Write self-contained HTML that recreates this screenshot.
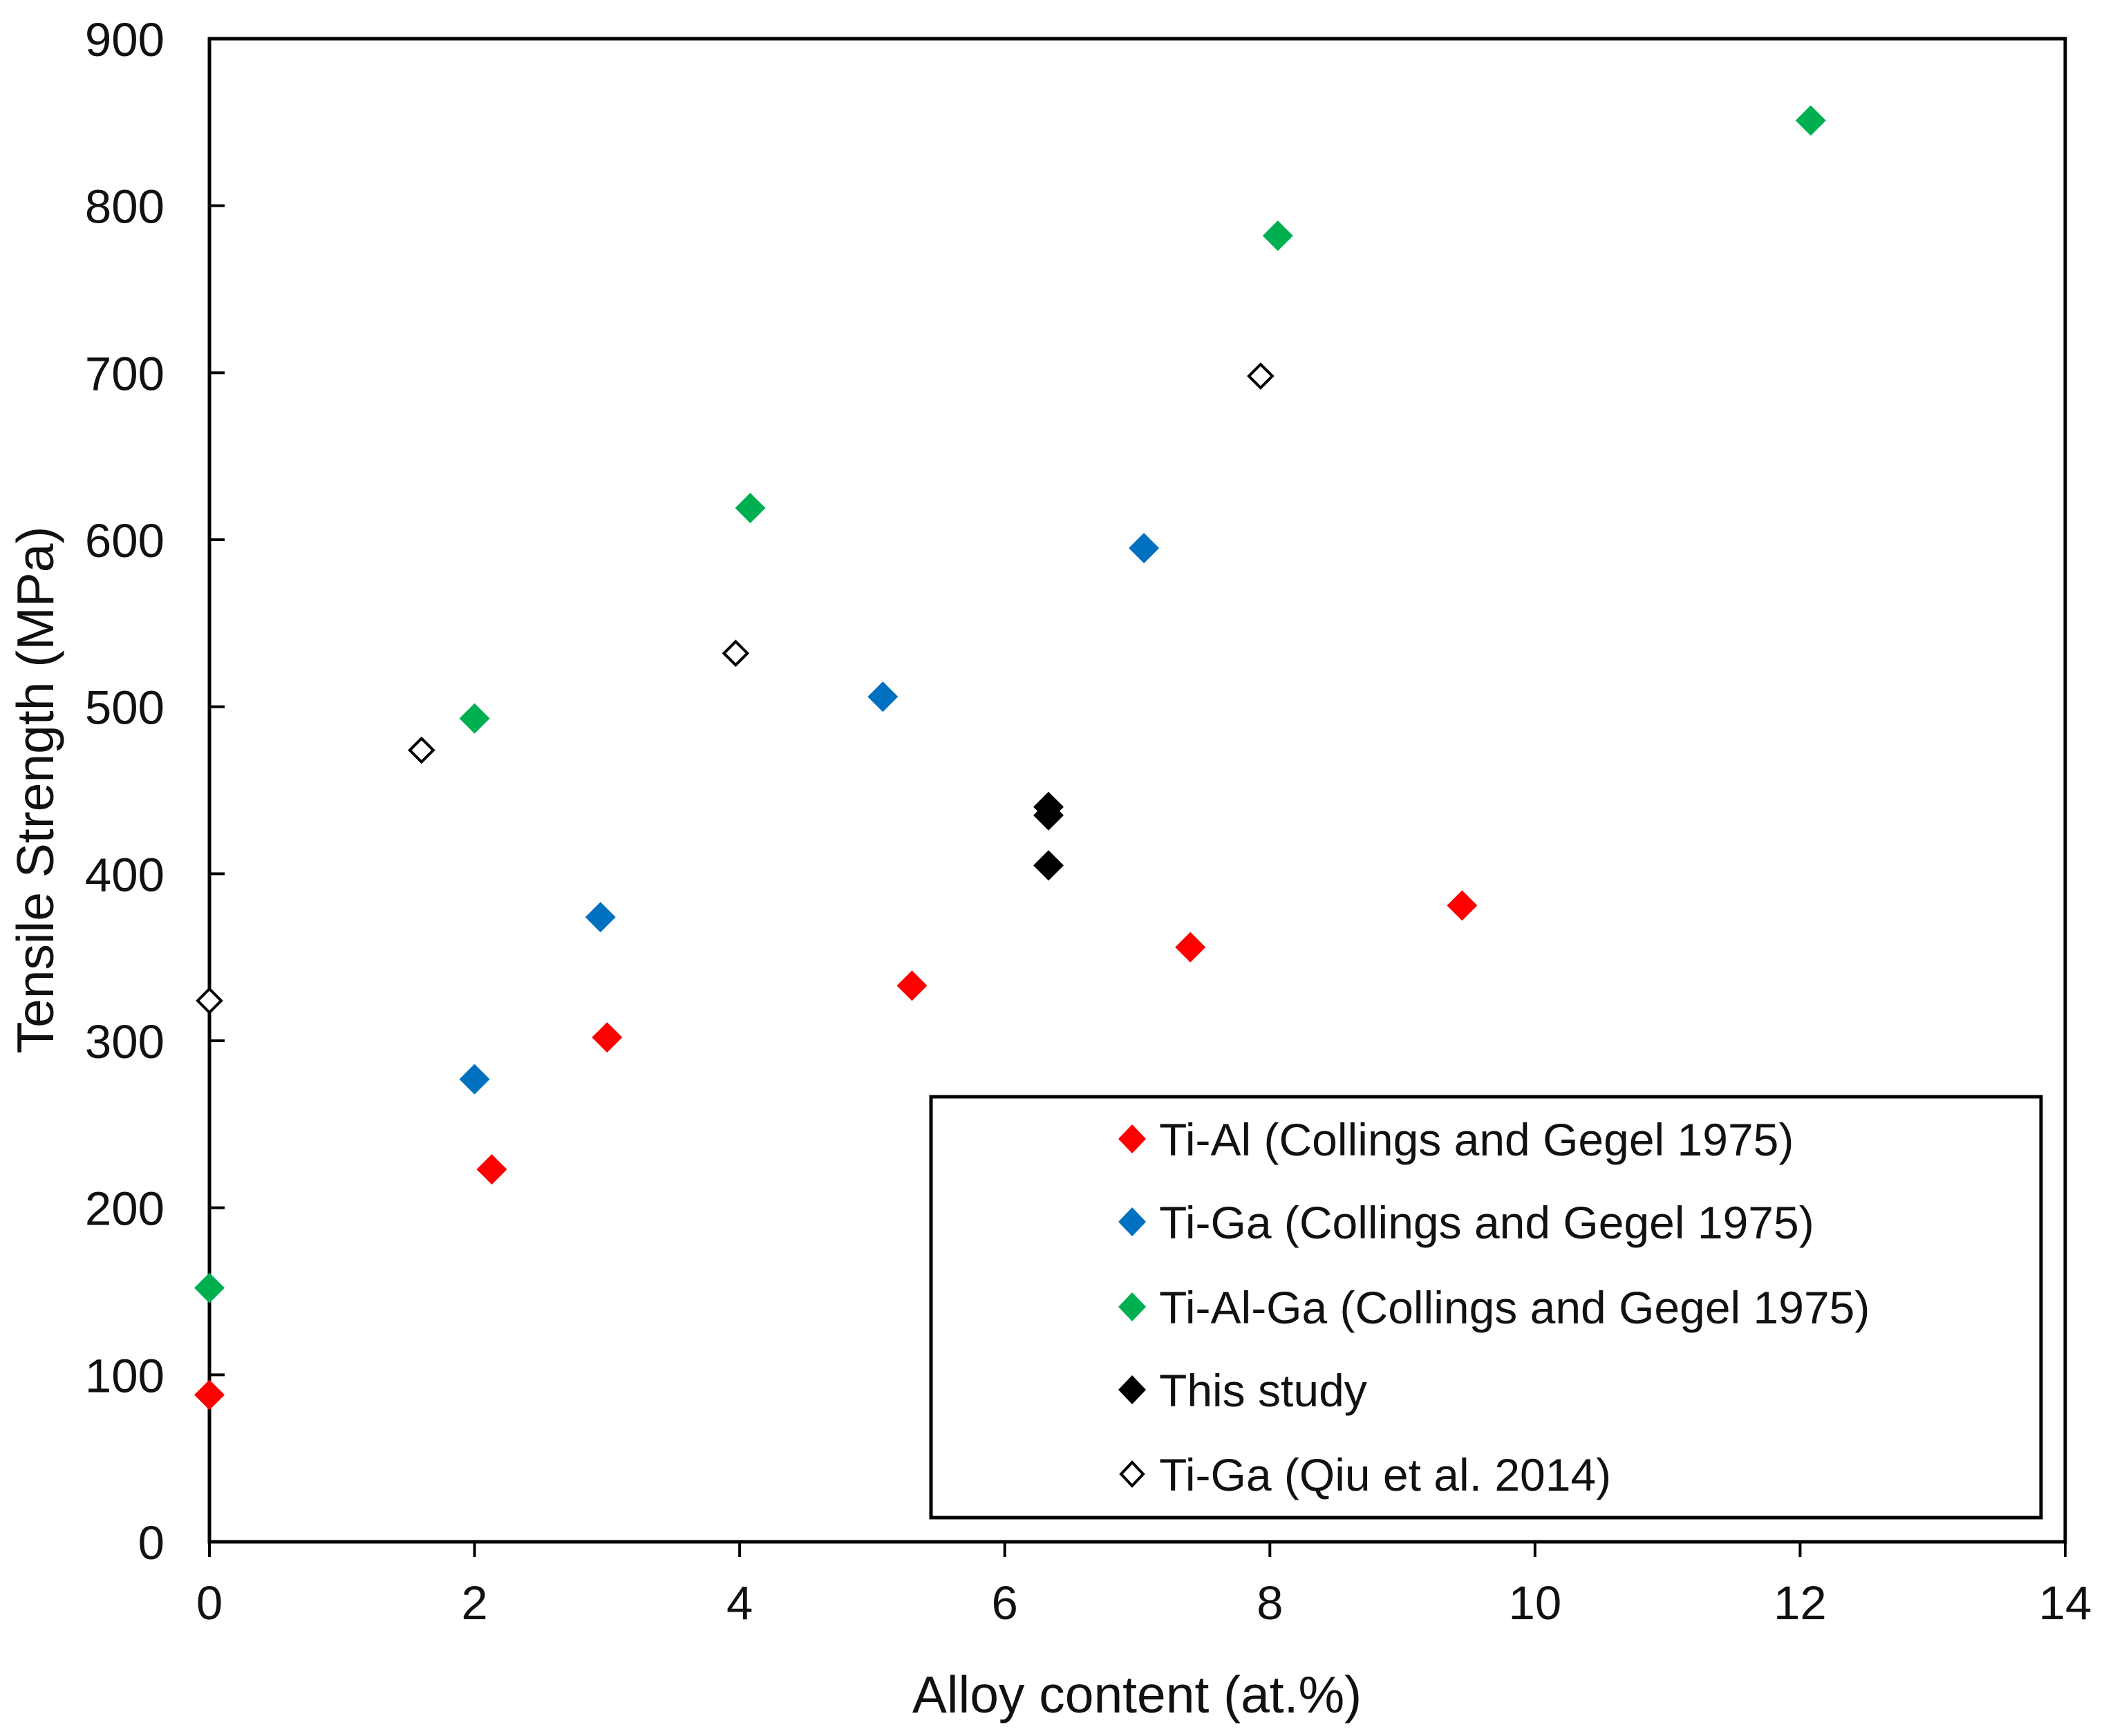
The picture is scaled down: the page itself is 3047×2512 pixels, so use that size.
<!DOCTYPE html>
<html><head><meta charset="utf-8"><style>
html,body{margin:0;padding:0;background:#fff}
svg{display:block}
text{font-family:"Liberation Sans",sans-serif;fill:#111}
</style></head><body>
<svg id="chart" width="3047" height="2512" viewBox="0 0 3047 2512" xmlns="http://www.w3.org/2000/svg">
<rect x="303" y="56" width="2685" height="2175" fill="none" stroke="#000" stroke-width="5"/>
<g id="axes"></g>
<g id="marks"></g>
<text x="1645" y="2478" font-size="75" text-anchor="middle">Alloy content (at.%)</text>
<text transform="translate(77,1143) rotate(-90)" font-size="75" text-anchor="middle">Tensile Strength (MPa)</text>
<g>
<rect x="1347" y="1587" width="1606" height="609" fill="#fff" stroke="#000" stroke-width="5"/>
<g id="legend-items"></g>
</g>
</svg>
<script>
const xTicks=[0,2,4,6,8,10,12,14];
const yTicks=[0,100,200,300,400,500,600,700,800,900];
const tiAlX=[0,2.13,3,5.3,7.4,9.45];
const tiAlY=[88,223,302,333,356,381];
const tiGaX=[2,2.95,5.08,7.05];
const tiGaY=[277,374,506,595];
const tiAlGaX=[0,2.0,4.08,8.06,12.08];
const tiAlGaY=[152,493,619,782,851];
const studyX=[6.33,6.33,6.33];
const studyY=[440,435,405];
const qiuX=[0,1.6,3.97,7.93];
const qiuY=[324,474,532,698];
const seriesNames=["Ti-Al (Collings and Gegel 1975)","Ti-Ga (Collings and Gegel 1975)","Ti-Al-Ga (Collings and Gegel 1975)","This study","Ti-Ga (Qiu et al. 2014)"];

const NS="http://www.w3.org/2000/svg";
const X0=303,X1=2988,Y0=2231,Y1=56;
const xs=v=>X0+(v-0)/(14-0)*(X1-X0);
const ys=v=>Y0-(v-0)/(900-0)*(Y0-Y1);
function mk(tag,attrs,parent){const e=document.createElementNS(NS,tag);for(const k in attrs)e.setAttribute(k,attrs[k]);parent.appendChild(e);return e;}
const axes=document.getElementById('axes');
xTicks.forEach(t=>{
  const l=mk('line',{x1:xs(t),x2:xs(t),y1:Y0,y2:Y0+22,stroke:'#000','stroke-width':4},axes);
  
  
  const tx=mk('text',{x:xs(t),y:Y0+112,'font-size':69,'text-anchor':'middle'},axes);
  tx.textContent=t;
  
  
});
yTicks.forEach(t=>{
  const l=mk('line',{x1:X0,x2:X0+22,y1:ys(t),y2:ys(t),stroke:'#000','stroke-width':4},axes);
  
  
  const tx=mk('text',{x:X0-65,y:ys(t)+25,'font-size':69,'text-anchor':'end'},axes);
  tx.textContent=t;
  
  
});
const marks=document.getElementById('marks');
function diamond(cx,cy,hw,hh,fill,stroke,parent){
  return mk('polygon',{points:`${cx},${cy-hh} ${cx+hw},${cy} ${cx},${cy+hh} ${cx-hw},${cy}`,fill:fill,stroke:stroke,'stroke-width':stroke==='none'?0:4},parent);
}
const series=[
 [tiAlX,tiAlY,'#ff0000','none','ti-al-point'],
 [tiGaX,tiGaY,'#0070c0','none','ti-ga-point'],
 [tiAlGaX,tiAlGaY,'#00b050','none','ti-al-ga-point'],
 [studyX,studyY,'#000000','none','this-study-point'],
 [qiuX,qiuY,'#ffffff','#000','qiu-point']
];
series.forEach(s=>{
  s[0].forEach((x,i)=>{
    const d=diamond(xs(x),ys(s[1][i]),s[3]==='none'?22:17,s[3]==='none'?22:17,s[2],s[3],marks);
    
    
  });
});
const li=document.getElementById('legend-items');
const rowsY=[1648,1768,1891,2011,2133];
series.forEach((s,i)=>{
  const d=diamond(1638,rowsY[i],s[3]==='none'?20:16,s[3]==='none'?21:17,s[2],s[3],li);
  
  
  const t=mk('text',{x:1677,y:rowsY[i]+24,'font-size':66},li);
  t.textContent=seriesNames[i];
  
  
});
</script>
</body></html>
